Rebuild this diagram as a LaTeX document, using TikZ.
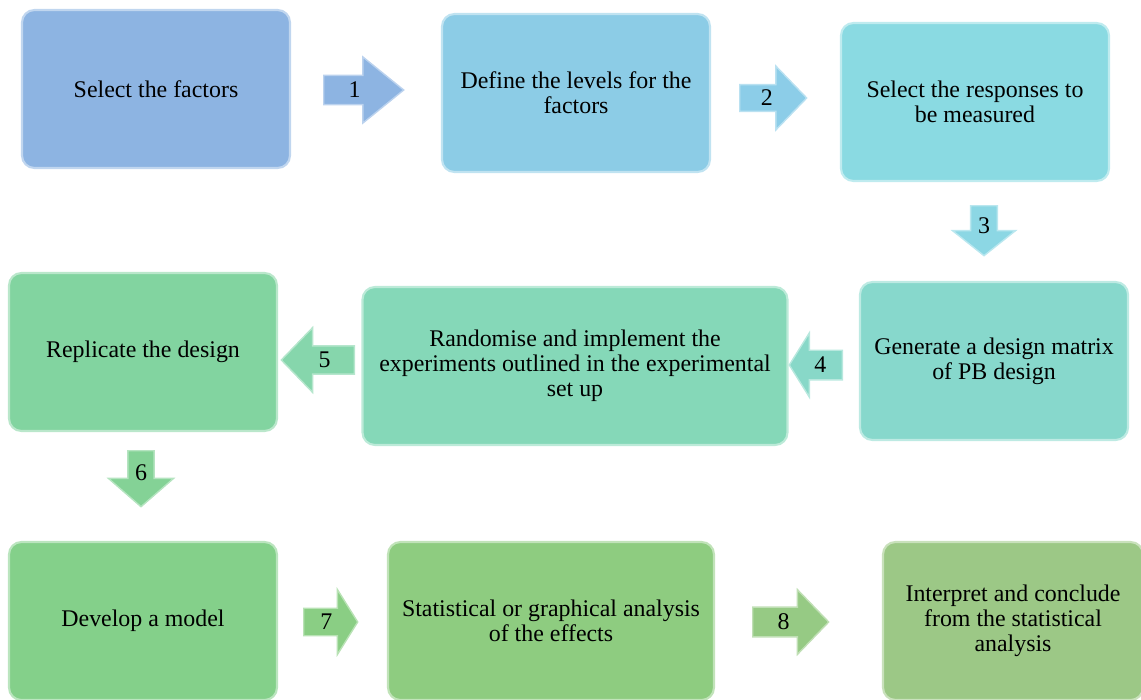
\documentclass[tikz,border=0pt]{standalone}
\usepackage{fontspec}
\setmainfont{Liberation Serif}
\usetikzlibrary{shapes.arrows,positioning}
\definecolor{stageA}{RGB}{141,180,226}
\definecolor{stageB}{RGB}{140,204,230}
\definecolor{stageC}{RGB}{138,218,226}
\definecolor{stageD}{RGB}{135,216,204}
\definecolor{stageE}{RGB}{133,216,184}
\definecolor{stageF}{RGB}{130,212,160}
\definecolor{stageG}{RGB}{132,208,138}
\definecolor{stageH}{RGB}{142,204,128}
\definecolor{stageI}{RGB}{156,200,134}
\definecolor{flowA}{RGB}{141,180,226}
\definecolor{flowB}{RGB}{140,205,232}
\definecolor{flowC}{RGB}{140,215,228}
\definecolor{flowD}{RGB}{136,216,200}
\definecolor{flowE}{RGB}{134,214,172}
\definecolor{flowF}{RGB}{132,210,150}
\definecolor{flowG}{RGB}{138,206,132}
\definecolor{flowH}{RGB}{150,202,132}
\tikzset{stage/.style={
            draw=#1!55!white,
            fill=#1,
            line width=1.2pt,
            rounded corners=7pt,
            minimum width=5.36cm,
            minimum height=3.16cm,
            align=center,
            font=\fontsize{13.6}{14.2}\selectfont
        },
        flow/.style={
            single arrow,
            draw=#1!60!white,
            fill=#1,
            line width=0.8pt,
            inner sep=1pt,
            single arrow head indent=0pt,
            font=\fontsize{13.6}{14.2}\selectfont
        }
    }
\begin{document}
\begin{tikzpicture}[x=0.02cm,y=-0.02cm]
        \useasboundingbox (0,0) rectangle (1141,699);
        % stages
        \node[stage=stageA] at (156,89) (factors) {Select the factors};
        \node[stage=stageB] at (576,93) (levels) {Define the levels for the\\factors};
        \node[stage=stageC] at (975,102) (responses) {Select the responses to\\be measured};
        \node[stage=stageD] at (994,361) (matrix) {Generate a design matrix\\of PB design};
        \node[stage=stageE,minimum width=8.5cm] at (575,366) (randomise) {Randomise and implement the\\experiments outlined in the experimental\\set up};
        \node[stage=stageF] at (143,352) (replicate) {Replicate the design};
        \node[stage=stageG] at (143,621) (model) {Develop a model};
        \node[stage=stageH,minimum width=6.52cm] at (551,621) (analysis) {Statistical or graphical analysis\\of the effects};
        \node[stage=stageI,minimum width=5.2cm] at (1013,621) (conclude) {Interpret and conclude\\from the statistical\\analysis};
        % numbered steps
        \node[flow=flowA,anchor=tail,minimum height=1.6cm,minimum width=1.32cm,
            single arrow head extend=0.26cm,single arrow tip angle=78] at (323,90) (s1) {1};
        \node[flow=flowB,anchor=tail,minimum height=1.34cm,minimum width=1.28cm,
            single arrow head extend=0.29cm,single arrow tip angle=92] at (739,98) (s2) {2};
        \node[flow=flowC,anchor=tail,shape border rotate=270,minimum height=1.0cm,minimum width=1.26cm,
            single arrow head extend=0.23cm,single arrow tip angle=103] at (984,205) (s3) {3};
        \node[flow=flowD,anchor=tail,shape border rotate=180,minimum height=1.06cm,minimum width=1.28cm,
            single arrow head extend=0.24cm,single arrow tip angle=116] at (843,365) (s4) {4};
        \node[flow=flowE,anchor=tail,shape border rotate=180,minimum height=1.46cm,minimum width=1.3cm,
            single arrow head extend=0.27cm,single arrow tip angle=92] at (355,360) (s5) {5};
        \node[flow=flowF,anchor=tail,shape border rotate=270,minimum height=1.12cm,minimum width=1.3cm,
            single arrow head extend=0.25cm,single arrow tip angle=98] at (141,450) (s6) {6};
        \node[flow=flowG,anchor=tail,minimum height=1.08cm,minimum width=1.3cm,
            single arrow head extend=0.28cm,single arrow tip angle=116] at (303,622) (s7) {7};
        \node[flow=flowH,anchor=tail,minimum height=1.52cm,minimum width=1.3cm,
            single arrow head extend=0.25cm,single arrow tip angle=92] at (752,622) (s8) {8};
    \end{tikzpicture}
\end{document}
